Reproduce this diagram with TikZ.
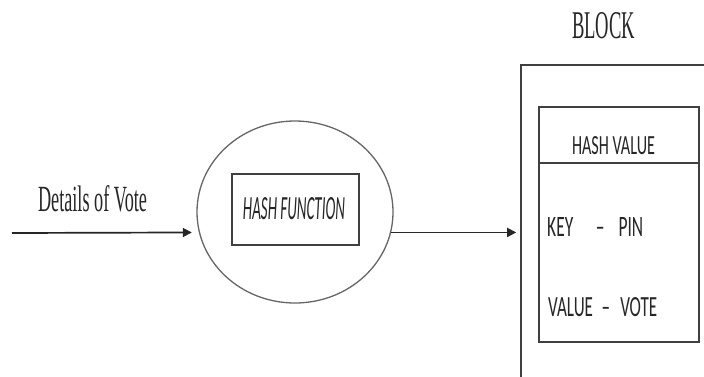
\documentclass[tikz,border=0pt]{standalone}
\usepackage{graphicx}
\usepackage{fontspec}
\setmainfont{Liberation Serif}
\newfontfamily\carlitofont{Carlito}
\usetikzlibrary{shapes.geometric,arrows.meta}
\tikzset{
  ln/.style={draw=black!75, line width=1.6pt},
  thinln/.style={draw=black!60, line width=1.3pt},
  arr/.style={black!85, line width=1.7pt, -{Triangle[length=9pt,width=9pt]}},
  txt/.style={inner sep=0pt, anchor=south, text=black!85},
  boxnode/.style={ln, rectangle, inner sep=0pt},
}
\begin{document}
\begin{tikzpicture}[x=1pt,y=-1pt]
\useasboundingbox (0,0) rectangle (704,376);
\clip (0,0) rectangle (704,376);
% outer block (extends beyond the picture)
\node[boxnode, minimum width=239pt, minimum height=355pt] (block) at (640.5,242.5) {};
% inner boxes
\node[boxnode, minimum width=160pt, minimum height=56pt] (hv) at (619,135) {};
\node[boxnode, minimum width=160pt, minimum height=179pt] (kv) at (619,252.5) {};
% hash circle and box
\node[thinln, ellipse, minimum width=196pt, minimum height=182pt, inner sep=0pt] (circ) at (295,212) {};
\node[boxnode, minimum width=127pt, minimum height=71pt] (hf) at (295.5,209.5) {};
% texts
\node[txt] (details) at (92.5,212) {\resizebox{109pt}{26pt}{Details of Vote}};
\node[txt] (blocklbl) at (603.5,39) {\resizebox{63pt}{26pt}{BLOCK}};
\node[txt] (hftxt) at (294,220) {\resizebox{102pt}{22pt}{\carlitofont\itshape HASH FUNCTION}};
\node[txt] (hvtxt) at (613.5,155) {\resizebox{83pt}{18pt}{\carlitofont HASH VALUE}};
\node[txt, anchor=south west] (keytxt) at (547,237) {\resizebox{96pt}{19pt}{\carlitofont KEY\hspace{1.3em}–\hspace{0.8em}PIN}};
\node[txt, anchor=south west] (valtxt) at (548,317) {\resizebox{109pt}{19pt}{\carlitofont VALUE\hspace{0.5em}–\hspace{0.6em}VOTE}};
% arrows
\coordinate (src) at (12,233);
\draw[arr, shorten >=7pt] (src) -- (circ.192);
\draw[arr, shorten >=4pt] (circ.-12) -- (circ.-12 -| block.west);
\end{tikzpicture}
\end{document}
